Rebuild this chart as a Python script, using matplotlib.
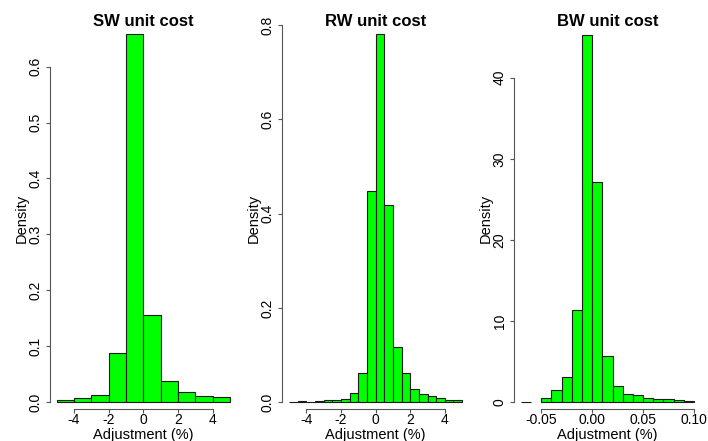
import numpy as np
import matplotlib
matplotlib.use('Agg')
import matplotlib.pyplot as plt

plt.rcParams['font.family'] = ['Liberation Sans', 'DejaVu Sans']
plt.rcParams['axes.unicode_minus'] = False

# SW unit cost: bins of width 1 from -5 to 5
sw_edges = [-5, -4, -3, -2, -1, 0, 1, 2, 3, 4, 5]
sw_dens = [0.004, 0.008, 0.013, 0.088, 0.658, 0.156, 0.038, 0.017, 0.010, 0.009]

# RW unit cost: bins of width 0.5 from -5 to 5
rw_edges = [-5, -4.5, -4, -3.5, -3, -2.5, -2, -1.5, -1, -0.5, 0,
            0.5, 1, 1.5, 2, 2.5, 3, 3.5, 4, 4.5, 5]
rw_dens = [0.001, 0.002, 0.001, 0.002, 0.004, 0.004, 0.006, 0.020, 0.062, 0.449,
           0.780, 0.418, 0.117, 0.063, 0.028, 0.018, 0.013, 0.010, 0.004, 0.004]

# BW unit cost: bins of width 0.01 from -0.07 to 0.10
bw_edges = [-0.07, -0.06, -0.05, -0.04, -0.03, -0.02, -0.01, 0.0, 0.01,
            0.02, 0.03, 0.04, 0.05, 0.06, 0.07, 0.08, 0.09, 0.10]
bw_dens = [0.08, 0.0, 0.53, 1.52, 3.12, 11.33, 45.3, 27.2, 5.71,
           2.01, 1.07, 0.86, 0.57, 0.45, 0.37, 0.25, 0.20]

panels = [
    ("SW unit cost", sw_edges, sw_dens, (-5.387, 5.387), (-0.0131, 0.6836),
     [-4, -2, 0, 2, 4], ['-4', '-2', '0', '2', '4'],
     [0.0, 0.1, 0.2, 0.3, 0.4, 0.5, 0.6], '%.1f'),
    ("RW unit cost", rw_edges, rw_dens, (-5.39, 5.39), (-0.0148, 0.8106),
     [-4, -2, 0, 2, 4], ['-4', '-2', '0', '2', '4'],
     [0.0, 0.2, 0.4, 0.6, 0.8], '%.1f'),
    ("BW unit cost", bw_edges, bw_dens, (-0.0765, 0.1068), (-0.8625, 47.1),
     [-0.05, 0.0, 0.05, 0.10], ['-0.05', '0.00', '0.05', '0.10'],
     [0, 10, 20, 30, 40], '%d'),
]

W, H = 708, 441
fig = plt.figure(figsize=(W / 100, H / 100), dpi=100)

lefts = [50, 282.3, 514.3]
ax_w = 186.6
ax_top, ax_bot = 20, 409.3

for left, (title, edges, dens, xl, yl, xt, xtl, yt, yfmt) in zip(lefts, panels):
    ax = fig.add_axes([left / W, (H - ax_bot) / H, ax_w / W, (ax_bot - ax_top) / H])
    edges = np.array(edges)
    dens = np.array(dens)
    keep = dens > 0
    ax.bar(edges[:-1][keep], dens[keep], width=np.diff(edges)[keep], align='edge',
           color='#00ff00', edgecolor='#1a1a1a', linewidth=0.8, clip_on=False)
    ax.set_xlim(xl)
    ax.set_ylim(yl)

    for s in ['top', 'right']:
        ax.spines[s].set_visible(False)
    for s in ['left', 'bottom']:
        ax.spines[s].set_color('#555555')
        ax.spines[s].set_linewidth(0.8)
    ax.spines['left'].set_bounds(yt[0], yt[-1])
    ax.spines['bottom'].set_bounds(xt[0], xt[-1])

    ax.set_xticks(xt)
    ax.set_xticklabels(xtl)
    ax.set_yticks(yt)
    ax.set_yticklabels([yfmt % v for v in yt], rotation=90, va='center')
    ax.tick_params(length=3, width=0.8, color='#555555', labelsize=10)
    ax.tick_params(axis='x', pad=-0.5)
    ax.tick_params(axis='y', pad=2.5)

    ax.set_title(title, fontsize=12, fontweight='bold', y=0.9846, va='baseline', pad=0)
    ax.set_xlabel('Adjustment (%)', fontsize=10.5)
    ax.xaxis.set_label_coords(0.5, -0.066)
    ax.xaxis.label.set_va('center')
    ax.set_ylabel('Density', fontsize=10.5)
    ax.yaxis.set_label_coords(-0.152, 0.491)
    ax.yaxis.label.set_va('center')

fig.savefig('out.png', dpi=100)
